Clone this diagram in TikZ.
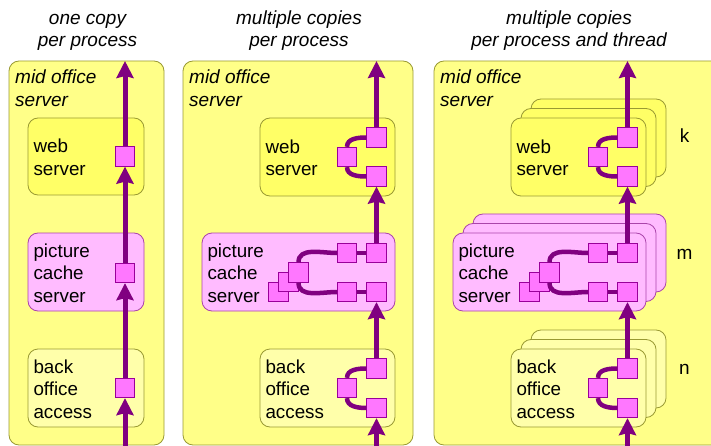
\documentclass[tikz,border=0pt]{standalone}
\usepackage{fontspec}
\setmainfont{Liberation Sans}
\usetikzlibrary{arrows.meta}
\definecolor{outerY}{HTML}{FFFF88}
\definecolor{webY}{HTML}{FFFF66}
\definecolor{lightY}{HTML}{FFFFAA}
\definecolor{pinkF}{HTML}{FFBBFF}
\definecolor{boxline}{HTML}{999933}
\definecolor{pinkline}{HTML}{AA44AA}
\definecolor{sqfill}{HTML}{FF77FF}
\definecolor{sqline}{HTML}{990099}
\definecolor{flowc}{HTML}{800080}
\newcommand\tstr{\rule{0pt}{21.75pt}}
\begin{document}
\begin{tikzpicture}[x=1pt,y=-1pt,
  outerbox/.style={draw=boxline, fill=outerY, rounded corners=10, line width=0.8, inner sep=0},
  anybox/.style={rounded corners=10, line width=0.8, inner xsep=5.5, inner ysep=0, align=left,
     font=\fontsize{18.8}{22.5}\selectfont},
  webbox/.style={anybox, draw=boxline, fill=webY},
  pcbox/.style={anybox, draw=pinkline, fill=pinkF},
  bobox/.style={anybox, draw=boxline, fill=lightY},
  sq/.style={draw=sqline, fill=sqfill, minimum size=19.5, inner sep=0, line width=0.8},
  flow/.style={draw=flowc, line width=5, -{Stealth[length=17,width=17,inset=2]}},
  link/.style={draw=flowc, line width=4.5},
  midlbl/.style={font=\fontsize{19}{22.5}\selectfont\itshape, align=left, inner sep=0, anchor=north west},
  ttl/.style={font=\fontsize{19}{22}\selectfont\itshape, align=center, inner sep=0, anchor=north},
  cnt/.style={font=\fontsize{19}{22.5}\selectfont, inner sep=0, anchor=base}
]
\clip (0,0) rectangle (711,446);
\fill[white] (0,0) rectangle (711,446);

% titles
\node[ttl] (t1) at (87.5,8.5) {\strut one copy\\per process};
\node[ttl] (t2) at (299,8.5) {\strut multiple copies\\per process};
\node[ttl] (t3) at (569,8.5) {\strut multiple copies\\per process and thread};

% ---------------- panel 1 ----------------
\node[outerbox, minimum width=155, minimum height=384] (o1) at (86.5,253) {};
\node[midlbl] (m1) at (15,68) {\strut mid office\\server};
\node[webbox, minimum width=116, minimum height=77, text width=105] (w1) at (86,156.5) {\tstr web\\server\strut};
\node[pcbox, minimum width=116, minimum height=78, text width=105] (p1) at (86,272) {\tstr picture\\cache\\server\strut};
\node[bobox, minimum width=116, minimum height=78, text width=105] (b1) at (86,388) {\tstr back\\office\\access\strut};
\node[sq] (s1a) at (125,156.5) {};
\node[sq] (s1b) at (125,273) {};
\node[sq] (s1c) at (125,388) {};
\coordinate (top1) at (125,61);
\coordinate (bot1) at (125,450);
\draw[flow] (s1a.north) -- (top1);
\draw[flow] (s1b.north) -- (s1a.south);
\draw[flow] (s1c.north) -- (s1b.south);
\draw[flow] (bot1) -- (s1c.south);

% ---------------- panel 2 ----------------
\node[outerbox, minimum width=230, minimum height=384] (o2) at (298,253) {};
\node[midlbl] (m2) at (189,68) {\strut mid office\\server};
\node[webbox, minimum width=135, minimum height=78, text width=124] (w2) at (327.5,157) {\tstr web\\server\strut};
\node[pcbox, minimum width=193, minimum height=78, text width=182] (p2) at (298.5,272) {\tstr picture\\cache\\server\strut};
\node[bobox, minimum width=135, minimum height=78, text width=124] (b2) at (327.5,388) {\tstr back\\office\\access\strut};
% web squares
\node[sq] (w2t) at (376.5,137.5) {};
\node[sq] (w2b) at (376.5,176.5) {};
\node[sq] (w2l) at (347,157) {};
% picture cache squares
\node[sq] (p2r1) at (376.5,253) {};
\node[sq] (p2r2) at (376.5,292) {};
\node[sq] (p2m1) at (347,253) {};
\node[sq] (p2m2) at (347,292) {};
\node[sq] (p2s1) at (278.5,292) {};
\node[sq] (p2s2) at (288.5,282) {};
\node[sq] (p2s3) at (298.5,272.5) {};
% back office squares
\node[sq] (b2t) at (376.5,368.5) {};
\node[sq] (b2b) at (376.5,408) {};
\node[sq] (b2l) at (347,388) {};
\draw[link] (w2l.north) to[out=90,in=180] (w2t.west);
\draw[link] (w2l.south) to[out=-90,in=180] (w2b.west);
\draw[link] (p2s3.north) to[out=90,in=180] (p2m1.west);
\draw[link] (p2s3.south) to[out=-90,in=180] (p2m2.west);
\draw[link] (p2m1.east) -- (p2r1.west);
\draw[link] (p2m2.east) -- (p2r2.west);
\draw[link] (b2l.north) to[out=90,in=180] (b2t.west);
\draw[link] (b2l.south) to[out=-90,in=180] (b2b.west);
\coordinate (top2) at (376.5,61);
\coordinate (bot2) at (376.5,450);
\draw[flow] (w2t.north) -- (top2);
\draw[flow] (p2r1.north) -- (w2b.south);
\draw[flow] (b2t.north) -- (p2r2.south);
\draw[flow] (bot2) -- (b2b.south);

% ---------------- panel 3 ----------------
\node[outerbox, minimum width=291, minimum height=384] (o3) at (579.5,253) {};
\node[midlbl] (m3) at (440,68) {\strut mid office\\server};
% back copies
\node[webbox, minimum width=135, minimum height=78] (w3c) at (598.5,138) {};
\node[webbox, minimum width=135, minimum height=78] (w3b) at (588.5,147.5) {};
\node[webbox, minimum width=135, minimum height=78, text width=124] (w3) at (578.5,157) {\tstr web\\server\strut};
\node[pcbox, minimum width=193, minimum height=78] (p3c) at (569.5,253) {};
\node[pcbox, minimum width=193, minimum height=78] (p3b) at (559.5,262.5) {};
\node[pcbox, minimum width=193, minimum height=78, text width=182] (p3) at (549.5,272) {\tstr picture\\cache\\server\strut};
\node[bobox, minimum width=135, minimum height=78] (b3c) at (598.5,369) {};
\node[bobox, minimum width=135, minimum height=78] (b3b) at (588.5,378.5) {};
\node[bobox, minimum width=135, minimum height=78, text width=124] (b3) at (578.5,388) {\tstr back\\office\\access\strut};
\node[cnt] (k) at (684.5,143) {k};
\node[cnt] (m) at (684.5,259) {m};
\node[cnt] (n) at (684.5,374) {n};
% squares
\node[sq] (w3t) at (627.5,137.5) {};
\node[sq] (w3bb) at (627.5,176.5) {};
\node[sq] (w3l) at (598,157) {};
\node[sq] (p3r1) at (627.5,253) {};
\node[sq] (p3r2) at (627.5,292) {};
\node[sq] (p3m1) at (598,253) {};
\node[sq] (p3m2) at (598,292) {};
\node[sq] (p3s1) at (529.5,292) {};
\node[sq] (p3s2) at (539.5,282) {};
\node[sq] (p3s3) at (549.5,272.5) {};
\node[sq] (b3t) at (627.5,368.5) {};
\node[sq] (b3bb) at (627.5,408) {};
\node[sq] (b3l) at (598,388) {};
\draw[link] (w3l.north) to[out=90,in=180] (w3t.west);
\draw[link] (w3l.south) to[out=-90,in=180] (w3bb.west);
\draw[link] (p3s3.north) to[out=90,in=180] (p3m1.west);
\draw[link] (p3s3.south) to[out=-90,in=180] (p3m2.west);
\draw[link] (p3m1.east) -- (p3r1.west);
\draw[link] (p3m2.east) -- (p3r2.west);
\draw[link] (b3l.north) to[out=90,in=180] (b3t.west);
\draw[link] (b3l.south) to[out=-90,in=180] (b3bb.west);
\coordinate (top3) at (627.5,61);
\coordinate (bot3) at (627.5,450);
\draw[flow] (w3t.north) -- (top3);
\draw[flow] (p3r1.north) -- (w3bb.south);
\draw[flow] (b3t.north) -- (p3r2.south);
\draw[flow] (bot3) -- (b3bb.south);
\end{tikzpicture}
\end{document}
